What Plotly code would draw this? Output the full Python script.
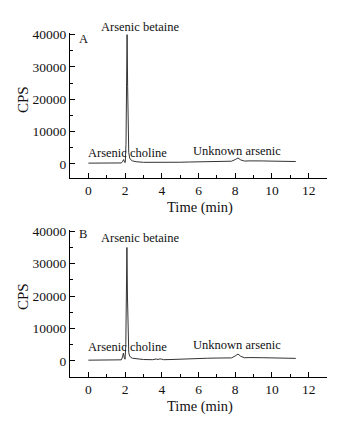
import plotly.graph_objects as go

# Chromatogram A
time_a = [0.0, 0.5, 1.0, 1.5, 1.8, 1.86, 1.92, 1.97, 2.01, 2.05, 2.08, 2.11, 2.14, 2.17, 2.2, 2.25, 2.3, 2.4, 2.6,
          3.0, 3.5, 4.0, 4.5, 5.0, 5.5, 6.0, 6.5, 7.0, 7.5, 7.8, 8.0, 8.15, 8.3, 8.5, 8.8, 9.0, 9.5, 10.0, 10.5, 11.0, 11.3]
cps_a = [200, 220, 210, 230, 260, 700, 1300, 500, 400, 6000, 24000, 40000, 24000, 8000, 3500, 1800, 1300, 900, 650,
         450, 400, 420, 400, 480, 550, 620, 700, 750, 700, 800, 1300, 1800, 1200, 850, 900, 950, 880, 820, 760, 700, 700]

# Chromatogram B
time_b = [0.0, 0.5, 1.0, 1.5, 1.8, 1.86, 1.91, 1.96, 2.0, 2.04, 2.07, 2.1, 2.13, 2.16, 2.2, 2.25, 2.3, 2.4, 2.6,
          3.0, 3.5, 3.7, 3.8, 3.9, 4.0, 4.1, 4.5, 5.0, 5.5, 6.0, 6.5, 7.0, 7.5, 7.8, 8.0, 8.15, 8.3, 8.5, 8.8, 9.0,
          9.5, 10.0, 10.5, 11.0, 11.3]
cps_b = [200, 210, 200, 220, 300, 1200, 2400, 900, 500, 5000, 20000, 35000, 20000, 6000, 2500, 1500, 1100, 800, 600,
         400, 350, 550, 400, 600, 500, 350, 400, 550, 650, 750, 800, 850, 800, 900, 1500, 2100, 1400, 950, 1000, 1050,
         950, 900, 800, 750, 750]

x_ticks = [0, 2, 4, 6, 8, 10, 12]
y_ticks = [0, 10000, 20000, 30000, 40000]
y_tick_labels = ["0", "10000", "20000", "30000", "40000"]

FONT = "Liberation Serif"
LINE = "#333333"
TXT = "#111111"

fig = go.Figure()
fig.add_trace(go.Scatter(x=time_a, y=cps_a, mode="lines", line=dict(color=LINE, width=1), xaxis="x", yaxis="y"))
fig.add_trace(go.Scatter(x=time_b, y=cps_b, mode="lines", line=dict(color=LINE, width=1), xaxis="x2", yaxis="y2"))

xdom = [70 / 340, 327 / 340]
ydom_a = [1 - 178 / 422, 1 - 33 / 422]
ydom_b = [1 - 377 / 422, 1 - 230 / 422]

xa = dict(range=[-1, 13], tickvals=x_ticks, ticks="inside", ticklen=5, tickcolor="#000", showline=True,
          linecolor="#000", linewidth=1, showgrid=False, zeroline=False, automargin=False,
          tickfont=dict(family=FONT, size=13.5, color=TXT),
          minor=dict(dtick=1, ticks="inside", ticklen=3, tickcolor="#000"), domain=xdom)
ya = dict(tickvals=y_ticks, ticktext=y_tick_labels, ticks="inside", ticklen=5, tickcolor="#000", showline=True,
          linecolor="#000", linewidth=1, showgrid=False, zeroline=False, automargin=False,
          tickfont=dict(family=FONT, size=13.5, color=TXT),
          minor=dict(tick0=0, dtick=5000, ticks="inside", ticklen=3, tickcolor="#000"))

fig.update_layout(
    width=340, height=422, margin=dict(l=0, r=0, t=0, b=0), showlegend=False,
    paper_bgcolor="white", plot_bgcolor="white",
    xaxis=dict(xa, anchor="y"),
    yaxis=dict(ya, range=[-4400, 40500], domain=ydom_a, anchor="x"),
    xaxis2=dict(xa, anchor="y2"),
    yaxis2=dict(ya, range=[-5000, 40400], domain=ydom_b, anchor="x2"),
)

f12 = dict(family=FONT, size=12.5, color=TXT)
ann = [
    dict(text="A", x=83 / 340, y=1 - 39 / 422),
    dict(text="Arsenic betaine", x=140 / 340, y=1 - 27 / 422),
    dict(text="Arsenic choline", x=127 / 340, y=1 - 153 / 422),
    dict(text="Unknown arsenic", x=237 / 340, y=1 - 151 / 422),
    dict(text="B", x=83 / 340, y=1 - 234 / 422),
    dict(text="Arsenic betaine", x=140 / 340, y=1 - 238 / 422),
    dict(text="Arsenic choline", x=127 / 340, y=1 - 347 / 422),
    dict(text="Unknown arsenic", x=237 / 340, y=1 - 345 / 422),
]
for a in ann:
    fig.add_annotation(**a, xref="paper", yref="paper", showarrow=False, font=f12,
                       xanchor="center", yanchor="middle")

for yc in [1 - 100 / 422, 1 - 297 / 422]:
    fig.add_annotation(text="CPS", x=23 / 340, y=yc, xref="paper", yref="paper", textangle=-90, showarrow=False,
                       font=dict(family=FONT, size=15, color=TXT), xanchor="center", yanchor="middle")
for yc in [1 - 207 / 422, 1 - 406 / 422]:
    fig.add_annotation(text="Time (min)", x=200 / 340, y=yc, xref="paper", yref="paper", showarrow=False,
                       font=dict(family=FONT, size=14.5, color=TXT), xanchor="center", yanchor="middle")

fig.write_html("out.html", config={"displayModeBar": False},
               post_script="document.body.style.margin='0';document.body.style.overflow='hidden';")
